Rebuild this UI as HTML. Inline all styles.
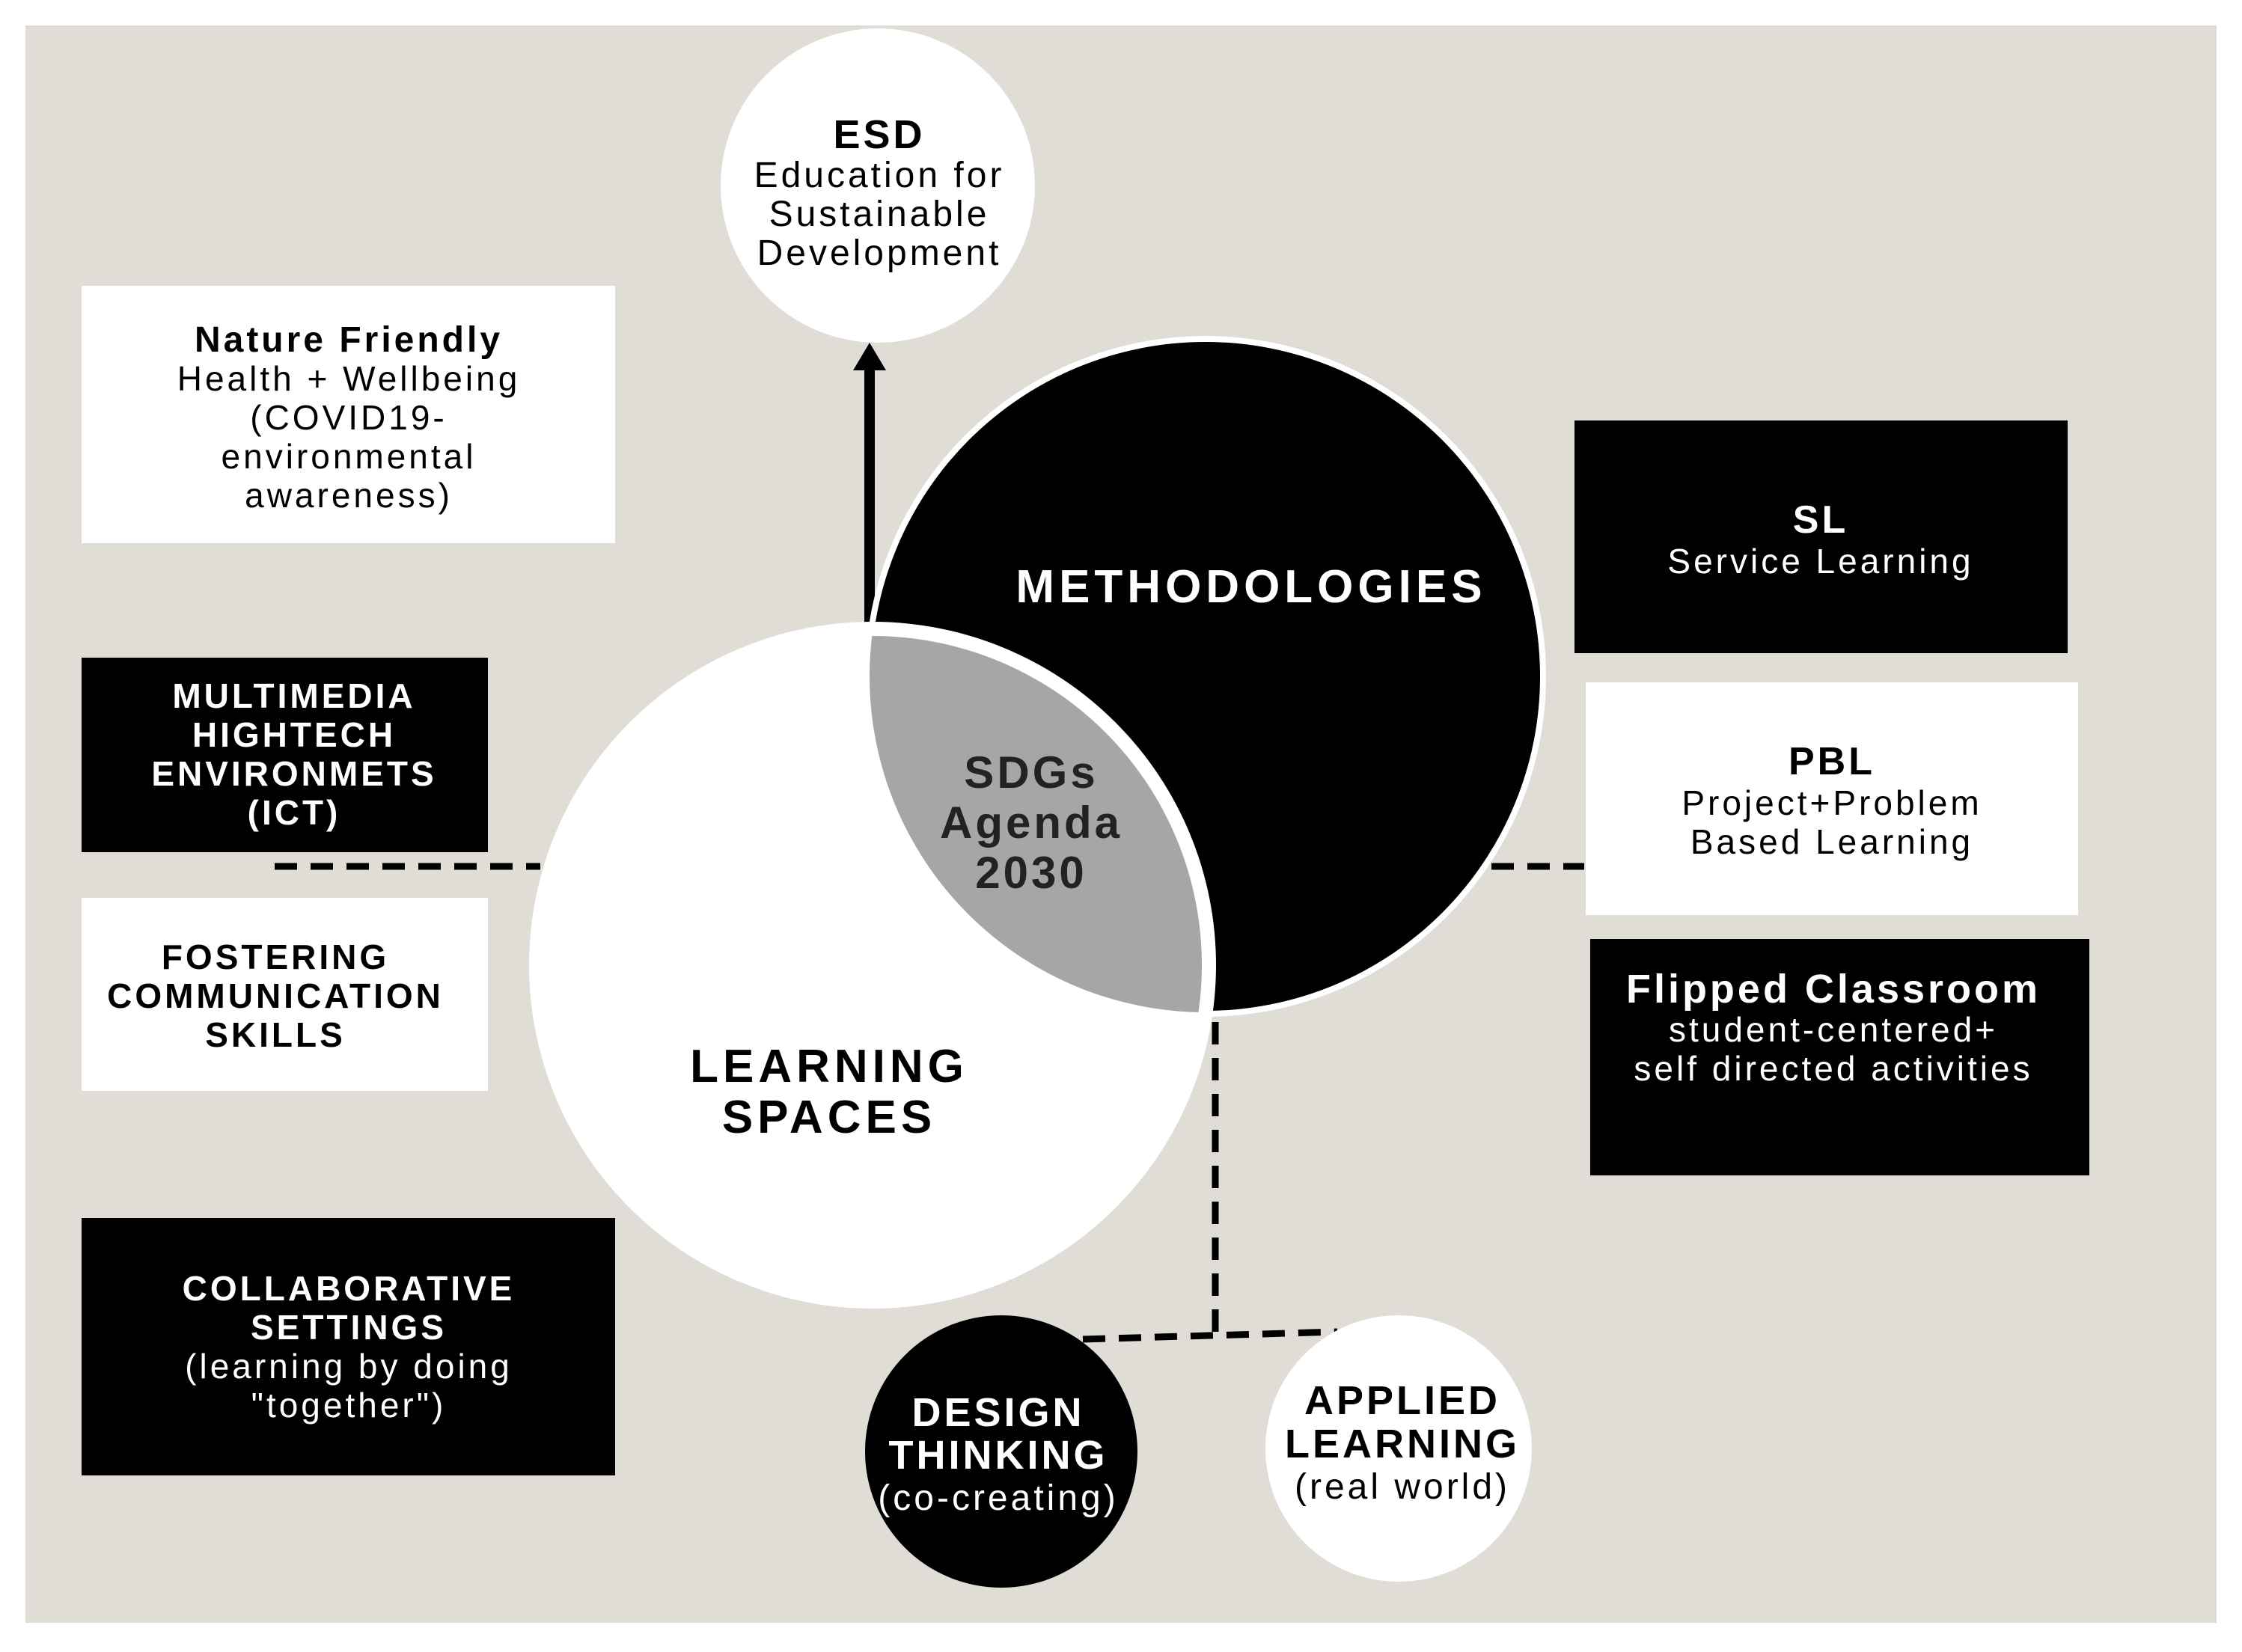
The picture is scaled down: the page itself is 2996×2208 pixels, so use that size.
<!DOCTYPE html>
<html><head><meta charset="utf-8"><style>
html,body{margin:0;padding:0;background:#fff;}
svg{display:block}
text{font-family:"Liberation Sans",sans-serif;text-anchor:middle;letter-spacing:4px}
</style></head><body>
<svg width="2996" height="2208" viewBox="0 0 2996 2208" xmlns="http://www.w3.org/2000/svg">
<rect x="34" y="34" width="2928" height="2135" fill="#e0dcd6"/>
<!-- ESD -->
<circle cx="1173" cy="248" r="210" fill="#fff"/>
<text font-weight="bold" font-size="54" x="1175" y="198">ESD</text>
<text font-size="48" x="1175" y="250">Education for</text>
<text font-size="48" x="1175" y="302">Sustainable</text>
<text font-size="48" x="1175" y="354">Development</text>
<!-- arrow -->
<line x1="1162" y1="845" x2="1162" y2="490" stroke="#000" stroke-width="14"/>
<polygon points="1140,495 1184,495 1162,458" fill="#000"/>
<!-- dashed -->
<g stroke="#000" stroke-width="9" stroke-dasharray="30,18" fill="none">
<line x1="367" y1="1158" x2="722" y2="1158"/>
<line x1="1993" y1="1158" x2="2117" y2="1158"/>
<line x1="1624" y1="1366" x2="1624" y2="1781"/>
<line x1="1447" y1="1790" x2="1787" y2="1780"/>
</g>
<!-- boxes -->
<rect x="109" y="382" width="713" height="344" fill="#fff"/>
<text font-weight="bold" font-size="48" x="466" y="470">Nature Friendly</text>
<text font-size="46" x="466" y="522">Health + Wellbeing</text>
<text font-size="46" x="466" y="574">(COVID19-</text>
<text font-size="46" x="466" y="626">environmental</text>
<text font-size="46" x="466" y="678">awareness)</text>
<rect x="109" y="879" width="543" height="260" fill="#000"/>
<g fill="#fff" font-weight="bold" font-size="46">
<text x="393" y="946">MULTIMEDIA</text>
<text x="393" y="998">HIGHTECH</text>
<text x="393" y="1050">ENVIRONMETS</text>
<text x="393" y="1102">(ICT)</text></g>
<rect x="109" y="1200" width="543" height="258" fill="#fff"/>
<g font-weight="bold" font-size="46">
<text x="368" y="1295">FOSTERING</text>
<text x="368" y="1347">COMMUNICATION</text>
<text x="368" y="1399">SKILLS</text></g>
<rect x="109" y="1628" width="713" height="344" fill="#000"/>
<g fill="#fff" font-size="46">
<text font-weight="bold" x="466" y="1738">COLLABORATIVE</text>
<text font-weight="bold" x="466" y="1790">SETTINGS</text>
<text x="466" y="1842">(learning by doing</text>
<text x="466" y="1894">"together")</text></g>
<rect x="2104" y="562" width="659" height="311" fill="#000"/>
<g fill="#fff"><text font-weight="bold" font-size="52" x="2433" y="712">SL</text>
<text font-size="46" x="2433" y="766">Service Learning</text></g>
<rect x="2119" y="912" width="658" height="311" fill="#fff"/>
<text font-weight="bold" font-size="52" x="2448" y="1035">PBL</text>
<text font-size="46" x="2448" y="1089">Project+Problem</text>
<text font-size="46" x="2448" y="1141">Based Learning</text>
<rect x="2125" y="1255" width="667" height="316" fill="#000"/>
<g fill="#fff"><text font-weight="bold" font-size="54" x="2450" y="1340">Flipped Classroom</text>
<text font-size="46" x="2450" y="1392">student-centered+</text>
<text font-size="46" x="2450" y="1444">self directed activities</text></g>
<!-- venn -->
<defs><clipPath id="m"><circle cx="1611" cy="904" r="449"/></clipPath></defs>
<circle cx="1611" cy="904" r="455" fill="#fff"/>
<circle cx="1611" cy="904" r="447" fill="#000"/>
<circle cx="1166" cy="1290" r="459" fill="#fff"/>
<circle cx="1166" cy="1290" r="440" fill="#a6a6a6" clip-path="url(#m)"/>
<text fill="#fff" font-weight="bold" font-size="62" x="1672" y="805" style="letter-spacing:6px">METHODOLOGIES</text>
<g font-weight="bold" font-size="60" fill="#222">
<text x="1378" y="1053">SDGs</text>
<text x="1378" y="1120">Agenda</text>
<text x="1378" y="1187">2030</text></g>
<text font-weight="bold" font-size="62" x="1108" y="1446" style="letter-spacing:6px">LEARNING</text>
<text font-weight="bold" font-size="62" x="1108" y="1514" style="letter-spacing:6px">SPACES</text>
<!-- bottom circles -->
<circle cx="1338" cy="1940" r="182" fill="#000"/>
<g fill="#fff" font-size="54"><text font-weight="bold" x="1334" y="1906">DESIGN</text>
<text font-weight="bold" x="1334" y="1963">THINKING</text>
<text font-size="48" x="1334" y="2018">(co-creating)</text></g>
<circle cx="1869" cy="1936" r="178" fill="#fff"/>
<text font-weight="bold" font-size="54" x="1874" y="1890">APPLIED</text>
<text font-weight="bold" font-size="54" x="1874" y="1948">LEARNING</text>
<text font-size="48" x="1874" y="2003">(real world)</text>
</svg>
</body></html>
